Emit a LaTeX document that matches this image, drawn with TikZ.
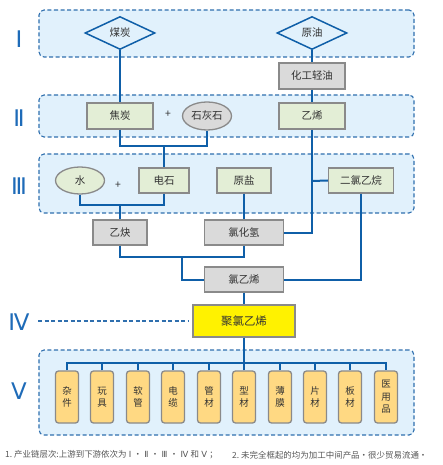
\documentclass[tikz,border=0pt]{standalone}
\usepackage{fontspec}
\setmainfont{Noto Sans CJK SC}
\newfontfamily\romfont{DejaVu Sans}
\usetikzlibrary{shapes.geometric}
\definecolor{lineblue}{HTML}{0F5FA8}
\definecolor{bandfill}{HTML}{E1F1FC}
\definecolor{bandline}{HTML}{2F6FAE}
\definecolor{boxgray}{HTML}{DADADA}
\definecolor{boxgreen}{HTML}{E3EED6}
\definecolor{boxborder}{HTML}{8A8A8A}
\definecolor{prodfill}{HTML}{FFD983}
\definecolor{pvcyellow}{HTML}{FFF200}
\definecolor{romanblue}{HTML}{1E6BB8}
\definecolor{txt}{HTML}{333333}
\definecolor{notetxt}{HTML}{555555}
\newcommand{\rn}[1]{\hspace{2.3pt}{\romfont #1}\hspace{2.3pt}}
\begin{document}
\begin{tikzpicture}[x=1bp,y=-1bp,
  band/.style={draw=bandline,fill=bandfill,dash pattern=on 4bp off 2.5bp,line width=1.1bp,rounded corners=5bp,inner sep=0pt},
  roman/.style={text=romanblue,font=\romfont\fontsize{23}{23}\selectfont,inner sep=0pt},
  conn/.style={draw=lineblue,line width=2bp},
  dia/.style={diamond,draw=lineblue,line width=1.5bp,aspect=2.12,minimum width=70bp,minimum height=33bp,inner sep=0pt,text=txt,font=\fontsize{10.5}{10.5}\selectfont},
  graybox/.style={rectangle,draw=boxborder,fill=boxgray,line width=1.3bp,inner sep=0pt,text=txt,font=\fontsize{10.5}{10.5}\selectfont},
  greenbox/.style={graybox,fill=boxgreen},
  grayell/.style={ellipse,draw=boxborder,fill=boxgray,line width=1.3bp,inner sep=0pt,text=txt,font=\fontsize{10.5}{10.5}\selectfont},
  greenell/.style={grayell,fill=boxgreen},
  plus/.style={text=txt,font=\fontsize{10.5}{10.5}\selectfont,inner sep=0pt},
  prod/.style={rectangle,rounded corners=3bp,draw=boxborder,fill=prodfill,line width=1.3bp,minimum width=23bp,minimum height=52bp,inner sep=0pt,text=txt,align=center,font=\fontsize{9.5}{12.5}\selectfont},
  note/.style={anchor=west,text=notetxt,inner sep=0pt,font=\fontsize{8.5}{8.5}\selectfont}
]
\useasboundingbox (0,0) rectangle (443,465);
% bands
\node[band,minimum width=375bp,minimum height=47bp] (b1) at (226.5,33.5) {};
\node[band,minimum width=375bp,minimum height=42bp] (b2) at (226.5,116) {};
\node[band,minimum width=375bp,minimum height=59bp] (b3) at (226.5,183.5) {};
\node[band,minimum width=375bp,minimum height=85bp] (b5) at (226.5,392.5) {};
% roman numerals
\node[roman] (r1) at (19,39) {Ⅰ};
\node[roman] (r2) at (19,118) {Ⅱ};
\node[roman] (r3) at (19,186) {Ⅲ};
\node[roman] (r4) at (19,322) {Ⅳ};
\node[roman] (r5) at (19,391) {Ⅴ};
% nodes
\node[dia] (coal) at (120,33) {\raisebox{-4pt}{煤炭}};
\node[dia] (oil) at (312,33) {\raisebox{-4pt}{原油}};
\node[graybox,minimum width=66bp,minimum height=26bp] (naph) at (312,76) {化工轻油};
\node[greenbox,minimum width=66bp,minimum height=26bp] (coke) at (120,116) {\raisebox{-4pt}{焦炭}};
\node[plus] (p1) at (168,114) {+};
\node[grayell,minimum width=49bp,minimum height=28bp] (lime) at (207,116) {石灰石};
\node[greenbox,minimum width=66bp,minimum height=26bp] (eth) at (312,116) {乙烯};
\node[greenell,minimum width=49bp,minimum height=27bp] (water) at (80,180.5) {\raisebox{-2pt}{水}};
\node[plus] (p2) at (118,185) {+};
\node[greenbox,minimum width=50bp,minimum height=25bp] (carb) at (164,180.5) {电石};
\node[greenbox,minimum width=54bp,minimum height=25bp] (salt) at (244,180.5) {原盐};
\node[greenbox,minimum width=65bp,minimum height=25bp] (edc) at (361,180.5) {二氯乙烷};
\node[graybox,minimum width=54bp,minimum height=25bp] (acet) at (120,232.5) {乙炔};
\node[graybox,minimum width=79bp,minimum height=25bp] (hcl) at (244,232.5) {氯化氢};
\node[graybox,minimum width=79bp,minimum height=25bp] (vcm) at (244,279.5) {氯乙烯};
\node[graybox,fill=pvcyellow,minimum width=102bp,minimum height=32bp,font=\fontsize{11.5}{11.5}\selectfont] (pvc) at (244,321) {聚氯乙烯};
% products
\foreach \i/\x/\t in {0/67/杂\\件,1/102/玩\\具,2/138/软\\管,3/173/电\\缆,4/209/管\\材,5/244/型\\材,6/280/薄\\膜,7/315/片\\材,8/350/板\\材,9/386/医\\用\\品}{
  \node[prod] (pr\i) at (\x,397) {\t};
}
% connectors
\draw[conn] (coal.south) -- (coke.north);
\draw[conn] (oil.south) -- (naph.north);
\draw[conn] (naph.south) -- (eth.north);
\coordinate (j1) at (164,146);
\draw[conn] (coke.south) |- (j1) -| (lime.south);
\draw[conn] (j1) -- (carb.north);
\coordinate (j2) at (120,205);
\draw[conn] (water.south) |- (j2) -| (carb.south);
\draw[conn] (j2) -- (acet.north);
\draw[conn] (salt.south) -- (hcl.north);
\coordinate (j3) at (312,181);
\draw[conn] (eth.south) |- (hcl.east);
\draw[conn] (j3) -- (edc.west);
\coordinate (j4) at (182,257);
\draw[conn] (acet.south) |- (j4) -| (hcl.south);
\draw[conn] (j4) |- (vcm.west);
\draw[conn] (edc.south) |- (vcm.east);
\draw[conn] (vcm.south) -- (pvc.north);
\coordinate (bus) at (244,363);
\draw[conn] (pvc.south) -- (bus);
\draw[conn] (pr0.north) |- (bus) -| (pr9.north);
\foreach \i in {1,...,8}{ \draw[conn] (pr\i.north) -- (pr\i.north |- bus); }
% IV dashed
\coordinate (d4) at (38,321);
\coordinate (d4e) at (188,321);
\draw[draw=bandline,line width=1.1bp,dash pattern=on 4bp off 2.5bp] (d4) -- (d4e);
% notes
\node[note] (n1) at (5,455) {1.\ 产业链层次:上游到下游依次为\rn{Ⅰ}・\rn{Ⅱ}・\rn{Ⅲ}・\rn{Ⅳ}和\rn{Ⅴ}；};
\node[note] (n2) at (232,455) {2.\ 未完全框起的均为加工中间产品・很少贸易流通・};
\end{tikzpicture}
\end{document}
